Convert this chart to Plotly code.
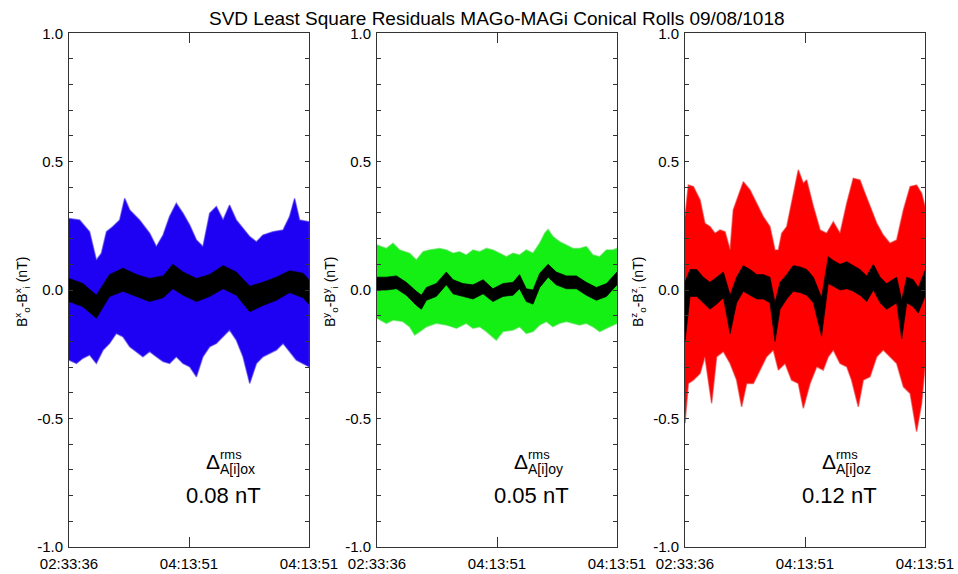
import plotly.graph_objects as go

W, H = 958, 574

TITLE = "SVD Least Square Residuals MAGo-MAGi Conical Rolls 09/08/1018"
X_TICKTEXT = ["02:33:36", "04:13:51", "04:13:51"]
Y_TICKVALS = [-1.0, -0.9, -0.8, -0.7, -0.6, -0.5, -0.4, -0.3, -0.2, -0.1, 0.0,
              0.1, 0.2, 0.3, 0.4, 0.5, 0.6, 0.7, 0.8, 0.9, 1.0]
Y_TICKTEXT = ["-1.0", "", "", "", "", "-0.5", "", "", "", "", "0.0",
              "", "", "", "", "0.5", "", "", "", "", "1.0"]
COMPONENTS = ["x", "y", "z"]
RMS_VALUES = ["0.08 nT", "0.05 nT", "0.12 nT"]
COLORS = ["#1e00f2", "#14f014", "#ff0000"]
EDGE_COLORS = ["rgba(60,40,230,0.55)", "rgba(60,220,60,0.55)", "rgba(230,40,40,0.55)"]

# ---- Panel 1 (Bx) : envelope of residuals (time as fraction of span)
t1_up = [0.000, 0.044, 0.086, 0.114, 0.135, 0.156, 0.183, 0.211, 0.232, 0.253, 0.294, 0.336, 0.364,
         0.392, 0.419, 0.447, 0.475, 0.503, 0.531, 0.558, 0.586, 0.614, 0.642, 0.669, 0.697, 0.725,
         0.753, 0.781, 0.808, 0.850, 0.892, 0.919, 0.940, 0.961, 1.000]
v1_up = [0.279, 0.273, 0.227, 0.117, 0.143, 0.227, 0.247, 0.273, 0.357, 0.312, 0.273, 0.221, 0.169,
         0.214, 0.286, 0.338, 0.299, 0.253, 0.195, 0.169, 0.299, 0.325, 0.273, 0.331, 0.273, 0.240,
         0.208, 0.188, 0.214, 0.227, 0.234, 0.286, 0.357, 0.273, 0.266]
t1_lo = [0.000, 0.031, 0.058, 0.086, 0.114, 0.142, 0.169, 0.197, 0.225, 0.253, 0.281, 0.308, 0.336,
         0.364, 0.392, 0.419, 0.447, 0.475, 0.503, 0.531, 0.558, 0.586, 0.614, 0.642, 0.669, 0.697,
         0.725, 0.753, 0.781, 0.808, 0.836, 0.864, 0.892, 0.919, 0.947, 0.975, 1.000]
v1_lo = [-0.273, -0.286, -0.266, -0.253, -0.286, -0.234, -0.208, -0.169, -0.182, -0.221, -0.240,
         -0.260, -0.240, -0.260, -0.279, -0.286, -0.260, -0.286, -0.299, -0.338, -0.260, -0.221,
         -0.208, -0.182, -0.156, -0.195, -0.260, -0.364, -0.286, -0.260, -0.247, -0.234, -0.208,
         -0.240, -0.273, -0.286, -0.299]
t1_avg = [0.000, 0.058, 0.114, 0.169, 0.225, 0.281, 0.336, 0.392, 0.433, 0.475, 0.531, 0.586, 0.642,
          0.697, 0.753, 0.808, 0.864, 0.919, 0.975, 1.000]
v1_avg_hi = [0.045, 0.025, -0.020, 0.060, 0.085, 0.060, 0.045, 0.055, 0.100, 0.070, 0.045, 0.060,
             0.095, 0.070, 0.015, 0.030, 0.050, 0.075, 0.065, 0.040]
v1_avg_lo = [-0.045, -0.065, -0.110, -0.025, -0.005, -0.025, -0.045, -0.030, 0.005, -0.020, -0.045,
             -0.025, 0.005, -0.020, -0.085, -0.060, -0.040, -0.010, -0.030, -0.055]

# ---- Panel 2 (By)
t2_up = [0.000, 0.039, 0.067, 0.094, 0.136, 0.164, 0.192, 0.219, 0.261, 0.289, 0.317, 0.344, 0.372,
         0.400, 0.428, 0.456, 0.483, 0.511, 0.539, 0.567, 0.594, 0.622, 0.650, 0.678, 0.699, 0.713,
         0.733, 0.761, 0.789, 0.817, 0.844, 0.872, 0.900, 0.928, 0.956, 0.983, 1.000]
v2_up = [0.175, 0.162, 0.182, 0.156, 0.143, 0.117, 0.149, 0.156, 0.162, 0.156, 0.143, 0.149, 0.136,
         0.156, 0.149, 0.162, 0.156, 0.143, 0.130, 0.143, 0.136, 0.156, 0.143, 0.182, 0.221, 0.236,
         0.208, 0.188, 0.175, 0.162, 0.162, 0.169, 0.136, 0.130, 0.156, 0.156, 0.162]
t2_lo = [0.000, 0.039, 0.067, 0.108, 0.136, 0.157, 0.178, 0.206, 0.247, 0.289, 0.331, 0.372, 0.400,
         0.428, 0.456, 0.497, 0.525, 0.567, 0.594, 0.622, 0.650, 0.678, 0.706, 0.733, 0.761, 0.789,
         0.817, 0.844, 0.872, 0.900, 0.928, 0.956, 1.000]
v2_lo = [-0.110, -0.130, -0.117, -0.123, -0.143, -0.175, -0.162, -0.143, -0.130, -0.136, -0.149,
         -0.130, -0.149, -0.143, -0.162, -0.195, -0.162, -0.156, -0.143, -0.169, -0.162, -0.136,
         -0.123, -0.143, -0.130, -0.123, -0.130, -0.136, -0.130, -0.143, -0.162, -0.149, -0.130]
t2_avg = [0.000, 0.039, 0.081, 0.122, 0.164, 0.185, 0.206, 0.247, 0.289, 0.317, 0.358, 0.400, 0.442,
          0.483, 0.525, 0.567, 0.594, 0.622, 0.650, 0.678, 0.713, 0.747, 0.789, 0.831, 0.872, 0.914,
          0.956, 1.000]
v2_avg_hi = [0.050, 0.050, 0.055, 0.030, -0.005, -0.020, 0.010, 0.025, 0.070, 0.040, 0.025, 0.020,
             0.040, 0.005, 0.025, 0.030, 0.060, 0.005, 0.000, 0.065, 0.100, 0.070, 0.055, 0.055,
             0.030, 0.010, 0.025, 0.070]
v2_avg_lo = [0.000, 0.000, 0.005, -0.020, -0.060, -0.075, -0.040, -0.025, 0.020, -0.015, -0.025,
             -0.035, -0.015, -0.045, -0.025, -0.020, 0.005, -0.045, -0.055, 0.010, 0.050, 0.020,
             0.005, 0.005, -0.020, -0.040, -0.025, 0.020]

# ---- Panel 3 (Bz)
t3_up = [0.000, 0.014, 0.035, 0.063, 0.083, 0.104, 0.125, 0.146, 0.167, 0.188, 0.201, 0.222, 0.243,
         0.271, 0.299, 0.326, 0.354, 0.375, 0.389, 0.403, 0.424, 0.444, 0.472, 0.493, 0.507, 0.535,
         0.563, 0.590, 0.618, 0.646, 0.674, 0.701, 0.729, 0.750, 0.771, 0.799, 0.826, 0.854, 0.882,
         0.910, 0.938, 0.965, 0.986, 1.000]
v3_up = [0.286, 0.409, 0.403, 0.351, 0.260, 0.247, 0.221, 0.234, 0.227, 0.156, 0.312, 0.364, 0.422,
         0.390, 0.338, 0.286, 0.247, 0.156, 0.156, 0.221, 0.247, 0.338, 0.468, 0.416, 0.429, 0.325,
         0.234, 0.221, 0.266, 0.221, 0.338, 0.435, 0.429, 0.377, 0.325, 0.260, 0.214, 0.182, 0.195,
         0.312, 0.403, 0.409, 0.377, 0.325]
t3_lo = [0.000, 0.014, 0.035, 0.063, 0.083, 0.111, 0.132, 0.160, 0.188, 0.215, 0.236, 0.257, 0.285,
         0.313, 0.340, 0.368, 0.389, 0.417, 0.444, 0.472, 0.493, 0.521, 0.549, 0.576, 0.597, 0.618,
         0.646, 0.674, 0.694, 0.722, 0.743, 0.771, 0.799, 0.826, 0.854, 0.882, 0.910, 0.938, 0.965,
         0.986, 1.000]
v3_lo = [-0.519, -0.364, -0.351, -0.325, -0.260, -0.442, -0.260, -0.240, -0.286, -0.351, -0.455,
         -0.364, -0.364, -0.312, -0.260, -0.234, -0.312, -0.286, -0.351, -0.364, -0.461, -0.364,
         -0.299, -0.312, -0.260, -0.234, -0.286, -0.299, -0.351, -0.455, -0.351, -0.338, -0.260,
         -0.234, -0.260, -0.286, -0.377, -0.403, -0.552, -0.442, -0.299]
t3_avg = [0.000, 0.021, 0.049, 0.076, 0.104, 0.132, 0.160, 0.188, 0.215, 0.243, 0.271, 0.299, 0.326,
          0.354, 0.375, 0.396, 0.424, 0.451, 0.479, 0.507, 0.535, 0.569, 0.597, 0.618, 0.646, 0.674,
          0.701, 0.729, 0.757, 0.785, 0.813, 0.840, 0.882, 0.903, 0.924, 0.951, 0.972, 1.000]
v3_avg_hi = [0.030, 0.080, 0.080, 0.050, 0.030, 0.050, 0.070, -0.020, 0.050, 0.095, 0.080, 0.060,
             0.060, 0.050, -0.050, 0.030, 0.060, 0.095, 0.090, 0.080, 0.050, -0.030, 0.130, 0.115,
             0.100, 0.110, 0.095, 0.080, 0.055, 0.100, 0.050, 0.025, 0.050, -0.040, 0.050, 0.040,
             0.010, 0.075]
v3_avg_lo = [-0.200, -0.025, -0.025, -0.050, -0.075, -0.055, -0.030, -0.170, -0.050, -0.005, -0.020,
             -0.035, -0.035, -0.050, -0.200, -0.075, -0.035, -0.005, -0.010, -0.020, -0.050, -0.180,
             0.025, 0.015, 0.000, 0.005, -0.005, -0.020, -0.045, 0.000, -0.050, -0.075, -0.050,
             -0.190, -0.050, -0.065, -0.090, -0.025]

panels = [
    (t1_up, v1_up, t1_lo, v1_lo, t1_avg, v1_avg_hi, v1_avg_lo),
    (t2_up, v2_up, t2_lo, v2_lo, t2_avg, v2_avg_hi, v2_avg_lo),
    (t3_up, v3_up, t3_lo, v3_lo, t3_avg, v3_avg_hi, v3_avg_lo),
]

# ---- layout geometry (pixels)
PLOT_LEFT = [69, 377, 685]
PLOT_W = 240
PLOT_TOP, PLOT_BOTTOM = 33.3, 546.7
FONT = "Liberation Sans, Arial, sans-serif"
AXCOL = "#333333"


def px(x):
    return x / W


def py(y):
    return 1 - y / H


fig = go.Figure()
annotations = []
for i, (tu, vu, tl, vl, ta, ah, al) in enumerate(panels):
    suf = "" if i == 0 else str(i + 1)
    xa, ya = "x" + suf, "y" + suf
    fig.add_trace(go.Scatter(
        x=tu + tl[::-1], y=vu + vl[::-1], xaxis=xa, yaxis=ya,
        mode="lines", fill="toself", fillcolor=COLORS[i],
        line=dict(color=EDGE_COLORS[i], width=1.5), hoverinfo="skip", showlegend=False))
    fig.add_trace(go.Scatter(
        x=ta + ta[::-1], y=ah + al[::-1], xaxis=xa, yaxis=ya,
        mode="lines", fill="toself", fillcolor="#000000",
        line=dict(color="rgba(0,0,0,0.7)", width=1), hoverinfo="skip", showlegend=False))

    left = PLOT_LEFT[i]
    dom_x = [px(left), px(left + PLOT_W)]
    dom_y = [py(PLOT_BOTTOM), py(PLOT_TOP)]
    fig.layout["xaxis" + suf] = dict(
        domain=dom_x, anchor=ya, range=[0, 1], tickvals=[0, 0.5, 1], ticktext=X_TICKTEXT,
        ticks="inside", ticklen=10, tickcolor=AXCOL, showline=True, linecolor=AXCOL, linewidth=1,
        mirror="ticks", showgrid=False, zeroline=False,
        tickfont=dict(family=FONT, size=15, color="#000"), ticklabelstandoff=3)
    fig.layout["yaxis" + suf] = dict(
        domain=dom_y, anchor=xa, range=[-1, 1], tickvals=Y_TICKVALS, ticktext=Y_TICKTEXT,
        ticks="inside", ticklen=4, tickcolor=AXCOL, showline=True, linecolor=AXCOL, linewidth=1,
        mirror="ticks", showgrid=False, zeroline=False,
        tickfont=dict(family=FONT, size=15, color="#000"), ticklabelstandoff=2)

    c = COMPONENTS[i]
    annotations.append(dict(
        xref="paper", yref="paper", x=px(left - 47), y=py(292), textangle=-90,
        text=f"B<sup>{c}</sup><sub>o</sub>-B<sup>{c}</sup><sub>i</sub> (nT)", showarrow=False,
        font=dict(family=FONT, size=14, color="#000"), xanchor="center", yanchor="middle"))
    annotations.append(dict(
        xref="paper", yref="paper", x=px(left + 153), y=py(461), text="Δ", showarrow=False,
        font=dict(family=FONT, size=21, color="#000"), xanchor="right", yanchor="middle"))
    annotations.append(dict(
        xref="paper", yref="paper", x=px(left + 149), y=py(454), text="rms", showarrow=False,
        font=dict(family=FONT, size=13, color="#000"), xanchor="left", yanchor="middle"))
    annotations.append(dict(
        xref="paper", yref="paper", x=px(left + 149), y=py(469), text=f"A[i]o{c}", showarrow=False,
        font=dict(family=FONT, size=14, color="#000"), xanchor="left", yanchor="middle"))
    annotations.append(dict(
        xref="paper", yref="paper", x=px(left + 154), y=py(495), text=RMS_VALUES[i], showarrow=False,
        font=dict(family=FONT, size=22, color="#000"), xanchor="center", yanchor="middle"))

annotations.append(dict(
    xref="paper", yref="paper", x=px(497), y=py(19), text=TITLE, showarrow=False,
    font=dict(family=FONT, size=19, color="#000"), xanchor="center", yanchor="middle"))

fig.update_layout(
    width=W, height=H, margin=dict(l=0, r=0, t=0, b=0, autoexpand=False),
    paper_bgcolor="white", plot_bgcolor="white", annotations=annotations, showlegend=False)

fig.write_html("out.html")
